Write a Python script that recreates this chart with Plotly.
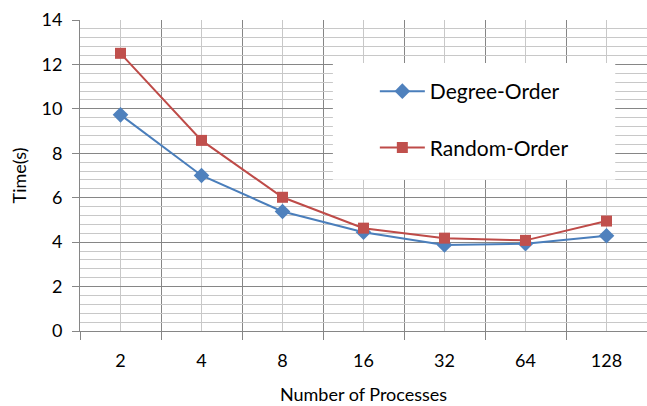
import plotly.graph_objects as go

processes = ["2", "4", "8", "16", "32", "64", "128"]
degree_order = [9.73, 7.0, 5.38, 4.45, 3.87, 3.93, 4.29]
random_order = [12.5, 8.58, 6.02, 4.63, 4.18, 4.08, 4.95]

x_idx = list(range(len(processes)))

FONT = "Lato, 'Open Sans', sans-serif"
BLUE_LINE = "#4A7EBB"
BLUE_MK = "#4F81BD"
RED_LINE = "#BE4B48"
RED_MK = "#C0504D"

fig = go.Figure()
fig.add_trace(go.Scatter(
    x=x_idx, y=degree_order, name="Degree-Order", mode="lines+markers",
    line=dict(color=BLUE_LINE, width=2),
    marker=dict(symbol="diamond", size=12, color=BLUE_MK),
    legendgroup="a",
))
fig.add_trace(go.Scatter(
    x=x_idx, y=random_order, name="Random-Order", mode="lines+markers",
    line=dict(color=RED_LINE, width=2),
    marker=dict(symbol="square", size=11, color=RED_MK),
    legendgroup="b",
))

# white legend box
fig.add_shape(type="rect", xref="paper", yref="paper",
              x0=0.446, x1=0.944, y0=0.486, y1=0.862,
              fillcolor="white", line=dict(width=0), layer="above")

fig.update_layout(
    width=647, height=406,
    margin=dict(l=80, r=0, t=20, b=75),
    paper_bgcolor="white", plot_bgcolor="white",
    font=dict(family=FONT, size=18, color="#000000"),
    showlegend=True,
    legend=dict(
        x=0.52, y=0.836, xanchor="left", yanchor="top",
        bgcolor="rgba(0,0,0,0)", font=dict(size=21, family=FONT),
        traceorder="grouped", tracegroupgap=26, itemwidth=45,
    ),
    xaxis=dict(
        range=[-0.5, len(processes) - 0.5],
        tickmode="array", tickvals=x_idx, ticktext=processes,
        showgrid=True, gridcolor="#C8C8C8", gridwidth=1,
        ticks="", zeroline=False,
        showline=True, linecolor="#868686", linewidth=1,
        minor=dict(tick0=0.5, dtick=1, showgrid=True, gridcolor="#868686",
                   gridwidth=1, ticks="outside", ticklen=8, tickcolor="#868686"),
        title=dict(text="Number of Processes", font=dict(size=18), standoff=18),
        ticklabelstandoff=13,
    ),
    yaxis=dict(
        range=[0, 14], dtick=2, tick0=0,
        showgrid=True, gridcolor="#868686", gridwidth=1,
        ticks="outside", ticklen=7, tickcolor="#868686",
        zeroline=False,
        showline=True, linecolor="#868686", linewidth=1,
        minor=dict(dtick=0.4, tick0=0, showgrid=True, gridcolor="#C8C8C8", gridwidth=1),
        title=dict(text="Time(s)", font=dict(size=18), standoff=10),
        ticklabelstandoff=6,
    ),
)

fig.write_html("out.html")
